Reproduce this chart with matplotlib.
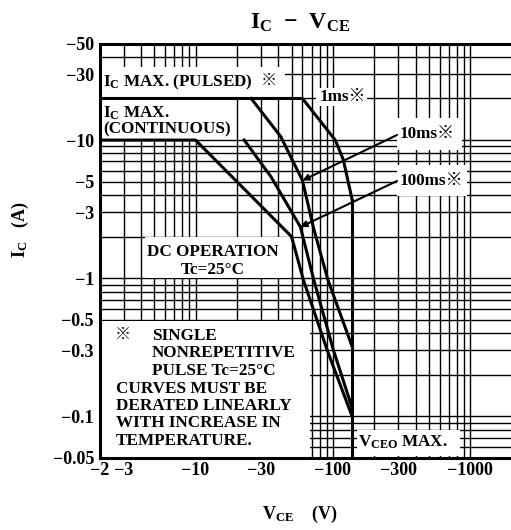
import matplotlib
matplotlib.use('Agg')
import matplotlib.pyplot as plt
from matplotlib.patches import Rectangle
from matplotlib.ticker import FixedLocator, NullFormatter

plt.rcParams['font.family'] = ['Liberation Serif', 'Noto Sans CJK JP']
plt.rcParams['font.weight'] = 'bold'
plt.rcParams['mathtext.fontset'] = 'custom'
plt.rcParams['mathtext.rm'] = 'Liberation Serif:bold'
plt.rcParams['mathtext.it'] = 'Liberation Serif:bold'
plt.rcParams['mathtext.bf'] = 'Liberation Serif:bold'
plt.rcParams['mathtext.default'] = 'rm'

# Data (magnitudes, axes are labelled with negative values)
vce_dc = [2, 10, 50, 61, 91, 138]
ic_dc = [10, 10, 2, 0.97, 0.3, 0.1]
vce_100ms = [22.6, 35.4, 58, 72.6, 101, 138]
ic_100ms = [10, 5.43, 2.35, 0.97, 0.3, 0.115]
vce_10ms = [25.4, 41.7, 60, 72, 92, 138]
ic_10ms = [20, 10.6, 5.1, 2.34, 0.97, 0.32]
vce_1ms = [2, 60, 104, 119, 138]
ic_1ms = [20, 20, 10, 7.2, 3.7]
vceo = 138
ic_vceo = [3.7, 0.05]

xticks = [2, 3, 10, 30, 100, 300, 1000]
xlabels = ['−2', '−3', '−10', '−30', '−100', '−300', '−1000']
yticks = [50, 30, 10, 5, 3, 1, 0.5, 0.3, 0.1, 0.05]
ylabels = ['−50', '−30', '−10', '−5', '−3', '−1', '−0.5', '−0.3', '−0.1', '−0.05']

W, H = 511, 530
L, R, T, B = 99.5, 511.7, 43.5, 458


def at(px, py):
    # reference pixel -> axes fraction
    return ((px - L) / (R - L), (B - py) / (B - T))


fig = plt.figure(figsize=(W / 100, H / 100), dpi=100)
ax = fig.add_axes([L / W, (H - B) / H, (R - L) / W, (B - T) / H])
ax.set_xscale('log')
ax.set_yscale('log')
ax.set_xlim(2, 2000)
ax.set_ylim(0.05, 50)

ax.xaxis.set_major_locator(FixedLocator(xticks))
ax.xaxis.set_ticklabels(xlabels)
ax.yaxis.set_major_locator(FixedLocator(yticks))
ax.yaxis.set_ticklabels(ylabels)
xminor = [m * 10 ** e for e in range(0, 4) for m in range(1, 10)]
yminor = [m * 10.0 ** e for e in range(-2, 2) for m in range(1, 10)]
ax.xaxis.set_minor_locator(FixedLocator(xminor))
ax.yaxis.set_minor_locator(FixedLocator(yminor))
ax.xaxis.set_minor_formatter(NullFormatter())
ax.yaxis.set_minor_formatter(NullFormatter())
ax.tick_params(which='both', length=0, labelsize=13)
ax.tick_params(axis='x', pad=3)
ax.tick_params(axis='y', pad=4)
ax.set_axisbelow(True)
ax.grid(which='both', color='black', lw=1.0)

for s in ['left', 'top', 'bottom']:
    ax.spines[s].set_linewidth(2.2)
ax.spines['right'].set_visible(False)

# white areas behind the labels
masks = [(100, 67, 285, 97), (100, 98, 232, 139), (145, 237, 290, 278),
         (100, 321, 310, 457), (357, 430, 460, 456), (397, 118, 462, 150),
         (397, 165, 467, 196), (316, 88, 367, 106)]
for x0, y0, x1, y1 in masks:
    ax0, ay1 = at(x0, y0)
    ax1, ay0 = at(x1, y1)
    ax.add_patch(Rectangle((ax0, ay0), ax1 - ax0, ay1 - ay0, transform=ax.transAxes,
                           facecolor='white', edgecolor='none', zorder=2))

lw = 2.2
ax.plot(vce_dc, ic_dc, color='black', lw=lw, zorder=3)
ax.plot(vce_100ms, ic_100ms, color='black', lw=lw, zorder=3)
ax.plot(vce_10ms, ic_10ms, color='black', lw=lw, zorder=3)
ax.plot(vce_1ms, ic_1ms, color='black', lw=lw, zorder=3)
ax.plot([vceo, vceo], ic_vceo, color='black', lw=lw, zorder=3)

fs = 12.3


def txt(px, py, s, ha='left', size=fs):
    ax.text(*at(px, py), s, transform=ax.transAxes, ha=ha, va='center',
            fontsize=size, zorder=4)


txt(103, 82, r'$I_C$ MAX. (PULSED)')
txt(261, 81, '※', size=11.5)
txt(103, 113, r'$I_C$ MAX.')
txt(103, 129, '(CONTINUOUS)')
txt(213, 252, 'DC OPERATION', ha='center')
txt(213, 270, 'Tc=25°C', ha='center')
txt(115, 335, '※', size=11.5)
txt(152, 336, 'SINGLE')
txt(152, 353, 'NONREPETITIVE')
txt(152, 371, 'PULSE Tc=25°C')
txt(116, 389, 'CURVES MUST BE')
txt(116, 406, 'DERATED LINEARLY')
txt(116, 423, 'WITH INCREASE IN')
txt(116, 441, 'TEMPERATURE.')
txt(320, 97, '1ms※')
txt(400, 134, '10ms※')
txt(400, 181, '100ms※')
txt(358, 442, r'$V_{CEO}$ MAX.')

# arrows from labels to the curves
arrow = dict(arrowstyle='-|>', color='black', lw=1.5, mutation_scale=9, shrinkA=0, shrinkB=0)
ax.annotate('', xy=(vce_10ms[2], ic_10ms[2]), xytext=at(397, 135),
            textcoords='axes fraction', arrowprops=arrow, zorder=5)
ax.annotate('', xy=(vce_100ms[2], ic_100ms[2]), xytext=at(397, 181),
            textcoords='axes fraction', arrowprops=arrow, zorder=5)

fig.text(300 / W, 1 - 23 / H, r'$I_C$  $-$  $V_{CE}$', ha='center', va='center', fontsize=17)
fig.text(20 / W, 1 - 230 / H, r'$I_C$   (A)', ha='center', va='center', rotation=90, fontsize=13)
fig.text(300 / W, 1 - 514 / H, r'$V_{CE}$    (V)', ha='center', va='center', fontsize=13)

fig.savefig('out.png', dpi=100, facecolor='white')
